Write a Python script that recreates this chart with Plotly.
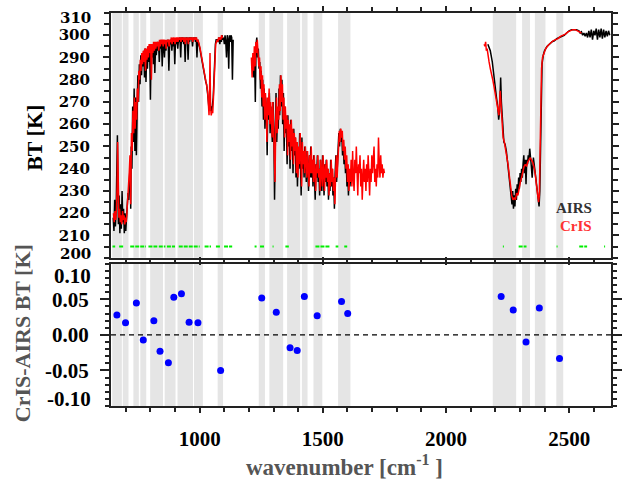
import plotly.graph_objects as go

# ---------------- data ----------------
# AIRS spectrum (wavenumber cm-1, BT K), three bands
airs_b1 = [(649,218),(652,212),(655,226),(658,214),(661,222),(664,236),(666,255),(668,230),(670,215),(673,228),
 (676,211),(679,224),(682,213),(685,230),(688,216),(691,222),(694,211),(697,220),(700,212),(703,218),(706,223),
 (709,229),(712,226),(715,235),(718,244),(720,222),(722,250),(725,240),(728,268),(731,252),(734,276),(737,248),
 (740,272),(743,246),(746,266),(749,282),(752,270),(755,287),(758,278),(761,291),(764,282),(767,292),(770,286),
 (773,293),(776,281),(779,294),(782,279),(785,293),(788,285),(791,295),(794,288),(797,295),(800,271),(803,294),
 (806,290),(809,296),(812,287),(815,296),(818,283),(821,296),(824,291),(827,297),(830,293),(833,297),(836,288),
 (839,297),(842,294),(845,297),(848,286),(851,297),(854,296),(857,290),(860,297),(863,293),(866,297),(869,295),
 (872,298),(875,284),(878,297),(881,296),(884,298),(887,293),(890,298),(893,295),(896,298),(899,287),(902,298),
 (905,296),(908,298),(911,294),(914,298),(917,297),(920,299),(923,290),(926,299),(929,297),(932,299),(935,296),
 (938,299),(941,288),(944,299),(947,298),(950,299),(953,289),(956,299),(959,297),(962,299),(965,298),(968,299),
 (971,295),(974,299),(977,298),(980,299),(983,297),(986,299),(989,290),(992,298),(995,297),(998,296),(1001,294),
 (1004,292),(1007,290),(1010,288),(1013,286),(1016,284),(1019,281),(1022,280),(1025,279),(1028,278),(1031,276),
 (1034,272),(1037,268),(1040,270),(1043,266),(1046,268),(1049,266),(1052,269),(1055,272),(1058,280),(1061,290),
 (1064,296),(1067,298),(1070,298),(1073,298),(1076,297),(1079,299),(1082,296),(1085,299),(1088,297),(1091,300),
 (1094,298),(1097,299),(1100,296),(1103,300),(1106,297),(1109,290),(1112,300),(1115,298),(1118,285),(1121,300),
 (1124,297),(1127,300),(1130,299),(1133,280),(1136,298)]
airs_b2 = [(1217,288),(1220,281),(1223,292),(1226,270),(1229,296),(1232,299),(1235,290),(1238,294),(1241,285),
 (1244,288),(1247,276),(1250,284),(1253,268),(1256,280),(1259,262),(1262,276),(1265,258),(1268,272),(1271,266),
 (1274,246),(1277,270),(1280,262),(1283,274),(1286,256),(1289,268),(1292,262),(1295,252),(1298,270),(1301,258),
 (1304,226),(1307,264),(1310,274),(1313,252),(1316,266),(1319,258),(1322,276),(1325,264),(1328,282),(1331,268),
 (1334,280),(1337,260),(1340,274),(1343,248),(1346,268),(1349,256),(1352,262),(1355,242),(1358,264),(1361,250),
 (1364,258),(1367,240),(1370,262),(1373,248),(1376,256),(1379,238),(1382,258),(1385,246),(1388,254),(1391,236),
 (1394,250),(1397,232),(1400,248),(1403,240),(1406,256),(1409,244),(1412,228),(1415,254),(1418,240),(1421,246),
 (1424,236),(1427,250),(1430,242),(1433,234),(1436,248),(1439,240),(1442,230),(1445,246),(1448,236),(1451,250),
 (1454,236),(1457,244),(1460,232),(1463,246),(1466,238),(1469,226),(1472,242),(1475,236),(1478,246),(1481,234),
 (1484,240),(1487,228),(1490,244),(1493,236),(1496,230),(1499,246),(1502,238),(1505,228),(1508,242),(1511,234),
 (1514,244),(1517,232),(1520,240),(1523,226),(1526,238),(1529,230),(1532,244),(1535,232),(1538,240),(1541,228),
 (1544,236),(1547,222),(1550,238),(1553,246),(1556,234),(1559,240),(1562,248),(1565,256),(1568,250),(1571,258),
 (1574,252),(1577,256),(1580,246),(1583,252),(1586,242),(1589,248),(1592,238),(1595,244),(1598,232),(1601,240),
 (1604,228),(1607,238),(1610,232),(1613,236)]
airs_b3 = [(2170,296),(2180,293),(2188,288),(2195,280),(2200,276),(2205,272),(2210,268),(2214,262),(2218,266),
 (2222,281),(2225,270),(2230,260),(2235,252),(2240,251),(2245,248),(2250,243),(2255,238),(2260,233),(2265,229),
 (2268,224),(2271,230),(2274,222),(2277,228),(2280,223),(2283,231),(2286,226),(2289,233),(2292,229),(2295,236),
 (2298,231),(2301,238),(2304,234),(2307,240),(2310,236),(2313,242),(2316,246),(2319,238),(2322,244),(2325,233),
 (2328,244),(2331,242),(2334,246),(2337,244),(2340,249),(2345,243),(2350,236),(2355,245),(2360,240),(2365,236),
 (2370,230),(2375,226),(2378,223),(2381,230),(2384,255),(2387,275),(2390,287),(2395,291),(2400,293),(2410,295),
 (2420,296),(2430,297),(2440,297.5),(2450,298.5),(2460,299),(2470,299.5),(2480,300),(2490,301),(2500,302),
 (2510,302.5),(2520,302.5),(2530,302.5),(2540,302),(2545,301),(2550,301.5),(2555,300),(2560,301),(2565,299.5),
 (2570,301),(2575,299),(2580,302),(2585,299),(2590,302.5),(2595,298),(2600,302),(2605,300),(2610,303),(2615,298),
 (2620,302.5),(2625,299),(2630,303),(2635,298.5),(2640,302.5),(2645,299),(2650,302),(2655,299.5),(2660,302),
 (2665,300)]

# CrIS spectrum (wavenumber cm-1, BT K), three bands
cris_b1 = [(650,220),(653,216),(656,221),(659,217),(662,222),(665,232),(667,252),(669,228),(672,218),(675,222),
 (678,216),(681,219),(684,215),(687,221),(690,217),(693,219),(696,215),(699,218),(702,216),(705,221),(708,226),
 (711,230),(714,238),(717,246),(720,224),(723,256),(726,248),(729,266),(732,256),(735,272),(738,258),(741,270),
 (744,262),(747,276),(750,270),(753,284),(756,280),(759,289),(762,284),(765,292),(768,287),(771,293),(774,288),
 (777,294),(780,284),(783,294),(786,289),(789,295),(792,290),(795,296),(798,292),(801,296),(804,280),(807,296),
 (810,292),(813,297),(816,293),(819,297),(822,294),(825,297),(828,295),(831,297),(834,293),(837,298),(840,295),
 (843,298),(846,296),(849,298),(852,295),(855,298),(858,296),(861,298),(864,294),(867,298),(870,297),(873,298),
 (876,295),(879,298),(882,297),(885,299),(888,296),(891,299),(894,297),(897,299),(900,296),(903,299),(906,297),
 (909,299),(912,297),(915,299),(918,298),(921,299),(924,297),(927,299),(930,298),(933,299),(936,297),(939,299),
 (942,296),(945,299),(948,298),(951,299),(954,296),(957,299),(960,298),(963,299),(966,298),(969,299),(972,297),
 (975,299),(978,298),(981,299),(984,298),(987,299),(990,297),(993,298),(996,297),(999,296),(1002,294),(1005,292),
 (1008,290),(1011,288),(1014,286),(1017,284),(1020,282),(1023,281),(1026,279),(1029,277),(1032,275),(1035,270),
 (1038,264),(1040,272),(1042,292),(1044,268),(1047,264),(1050,266),(1053,265),(1056,272),(1059,284),(1062,292),
 (1065,296),(1068,297),(1071,298),(1074,297),(1077,299),(1080,298),(1083,299),(1086,298),(1089,300),(1092,299),
 (1095,299)]
cris_b2 = [(1210,290),(1213,281),(1216,292),(1219,284),(1222,295),(1225,286),(1228,297),(1231,292),(1234,298),
 (1237,290),(1240,286),(1243,290),(1246,280),(1249,286),(1252,272),(1255,282),(1258,268),(1261,278),(1264,262),
 (1267,274),(1270,268),(1273,252),(1276,272),(1279,264),(1282,276),(1285,260),(1288,270),(1291,264),(1294,254),
 (1297,270),(1300,260),(1303,246),(1306,234),(1309,262),(1312,272),(1315,256),(1318,268),(1321,262),(1324,278),
 (1327,266),(1330,282),(1333,270),(1336,278),(1339,262),(1342,272),(1345,254),(1348,268),(1351,258),(1354,264),
 (1357,246),(1360,262),(1363,252),(1366,260),(1369,244),(1372,262),(1375,250),(1378,258),(1381,242),(1384,256),
 (1387,248),(1390,254),(1393,238),(1396,252),(1399,236),(1402,250),(1405,242),(1408,256),(1411,246),(1414,232),
 (1417,252),(1420,242),(1423,248),(1426,238),(1429,250),(1432,244),(1435,236),(1438,248),(1441,240),(1444,232),
 (1447,246),(1450,238),(1453,250),(1456,238),(1459,244),(1462,234),(1465,246),(1468,240),(1471,230),(1474,242),
 (1477,238),(1480,246),(1483,236),(1486,240),(1489,230),(1492,244),(1495,238),(1498,232),(1501,246),(1504,240),
 (1507,230),(1510,242),(1513,236),(1516,244),(1519,234),(1522,240),(1525,228),(1528,238),(1531,232),(1534,244),
 (1537,234),(1540,240),(1543,230),(1546,236),(1549,224),(1552,238),(1555,246),(1558,236),(1561,242),(1564,250),
 (1567,257),(1570,252),(1573,258),(1576,254),(1579,257),(1582,248),(1585,253),(1588,244),(1591,250),(1594,240),
 (1597,246),(1600,234),(1603,242),(1606,230),(1609,240),(1612,234),(1615,244),(1618,232),(1621,248),(1624,236),
 (1627,230),(1630,244),(1633,238),(1636,250),(1639,236),(1642,228),(1645,242),(1648,238),(1651,246),(1654,232),
 (1657,240),(1660,226),(1663,236),(1666,244),(1669,234),(1672,240),(1675,230),(1678,242),(1681,234),(1684,246),
 (1687,238),(1690,228),(1693,240),(1696,234),(1699,246),(1702,238),(1705,244),(1708,250),(1711,234),(1714,240),
 (1717,232),(1720,242),(1723,236),(1726,254),(1729,242),(1732,236),(1735,246),(1738,238),(1741,242),(1744,236),
 (1747,240),(1750,238)]
cris_b3 = [(2155,296),(2158,295),(2161,297),(2164,293),(2167,294),(2170,291),(2175,288),(2180,285),(2185,283),
 (2190,280),(2195,277),(2200,274),(2205,270),(2210,267),(2215,264),(2220,275),(2223,270),(2227,262),(2232,254),
 (2237,252),(2242,249),(2247,246),(2252,242),(2257,237),(2262,232),(2267,228),(2272,226),(2277,227),(2282,226),
 (2287,229),(2292,228),(2297,232),(2302,234),(2307,236),(2312,239),(2317,241),(2322,242),(2327,241),(2332,243),
 (2337,244),(2342,245),(2347,244),(2352,243),(2357,241),(2362,238),(2367,233),(2372,228),(2376,225),(2379,228),
 (2382,250),(2385,272),(2388,285),(2392,290),(2397,292),(2405,294),(2415,295.5),(2425,296.5),(2435,297.5),
 (2445,298),(2455,298.5),(2465,299.5),(2475,300),(2485,300.5),(2495,301.5),(2505,302),(2515,302.5),(2525,302.5),
 (2535,302),(2545,301.5),(2550,301)]

# Selected channel ranges (green marks at 205 K)
green_start = [646, 673, 718, 792, 834, 867, 915, 1020, 1066, 1099, 1223, 1245, 1296, 1348, 1470, 1552, 1587,
               2231, 2295, 2449, 2541, 2642]
green_end   = [657, 692, 782, 828, 861, 900, 1000, 1046, 1086, 1132, 1231, 1265, 1300, 1362, 1530, 1563, 1599,
               2235, 2327, 2453, 2573, 2646]
green_bt = 205

# Shaded spectral bands (cm-1)
band_lo = [645, 688, 731, 759, 799, 858, 910, 977, 1073, 1240, 1283, 1355, 1415, 1462, 1562, 2190, 2309, 2361, 2448]
band_hi = [684, 711, 753, 783, 851, 902, 973, 1013, 1095, 1265, 1339, 1408, 1438, 1498, 1612, 2285, 2341, 2404, 2476]

# CrIS-AIRS BT difference per band
diff_wn  = [664, 699, 743, 771, 814, 839, 873, 895, 926, 957, 993, 1085, 1252, 1311, 1367, 1396, 1425, 1477,
            1576, 1601, 2224, 2273, 2325, 2379, 2461]
diff_val = [0.028, 0.017, 0.045, -0.007, 0.020, -0.023, -0.039, 0.053, 0.058, 0.018, 0.017, -0.050, 0.052, 0.032,
            -0.018, -0.022, 0.054, 0.027, 0.047, 0.030, 0.054, 0.035, -0.010, 0.038, -0.033]

x_range = [640, 2670]
bt_range = [200, 310]
diff_range = [-0.1, 0.1]

# ---------------- figure ----------------
def join(bands):
    xs, ys = [], []
    for b in bands:
        if xs:
            xs.append(None); ys.append(None)
        xs += [p[0] for p in b]
        ys += [p[1] for p in b]
    return xs, ys

fig = go.Figure()
ax, ay = join([airs_b1, airs_b2, airs_b3])
cx, cy = join([cris_b1, cris_b2, cris_b3])
fig.add_trace(go.Scatter(x=ax, y=ay, mode="lines", line=dict(color="black", width=1.5),
                         xaxis="x", yaxis="y", showlegend=False))
fig.add_trace(go.Scatter(x=cx, y=cy, mode="lines", line=dict(color="#ff0000", width=1.5),
                         xaxis="x", yaxis="y", showlegend=False))
gx, gy = [], []
for s, e in zip(green_start, green_end):
    gx += [s, e, None]; gy += [green_bt, green_bt, None]
fig.add_trace(go.Scatter(x=gx, y=gy, mode="lines", line=dict(color="#00ee00", width=2, dash="4px,1px"),
                         xaxis="x", yaxis="y", showlegend=False))
fig.add_trace(go.Scatter(x=diff_wn, y=diff_val, mode="markers", marker=dict(color="#0000ff", size=7),
                         xaxis="x2", yaxis="y2", showlegend=False))

shapes = []
for lo, hi in zip(band_lo, band_hi):
    for xr, yr in (("x", "y domain"), ("x2", "y2 domain")):
        shapes.append(dict(type="rect", xref=xr, yref=yr, x0=lo, x1=hi, y0=0, y1=1,
                           fillcolor="#e5e5e5", line=dict(width=0), layer="below"))
shapes.append(dict(type="line", xref="x2 domain", yref="y2", x0=0, x1=1, y0=0, y1=0,
                   line=dict(color="black", width=1.3, dash="5px,4px")))

FONT = "Liberation Serif, Times New Roman, serif"
WIDE = "DejaVu Serif, serif"
axcol = "#222"
common_x = dict(range=x_range, showline=True, linewidth=2, linecolor=axcol, mirror="allticks",
                ticks="outside", ticklen=5, tickwidth=1.5, tickcolor=axcol, tick0=0, dtick=500,
                minor=dict(dtick=100, ticks="outside", ticklen=4, tickcolor=axcol, tickwidth=1.5),
                showgrid=False, zeroline=False)

fig.update_layout(
    width=628, height=479, margin=dict(l=111, r=6, t=12, b=73),
    paper_bgcolor="white", plot_bgcolor="white",
    font=dict(family=FONT, size=21, color="black"),
    shapes=shapes,
    xaxis=dict(domain=[0, 1], anchor="y", showticklabels=False, **common_x),
    xaxis2=dict(domain=[0, 1], anchor="y2", matches="x", showticklabels=True,
                tickfont=dict(family=FONT, size=21, color="black", weight="bold"),
                ticklabelstandoff=8, **common_x),
    yaxis=dict(domain=[0.3774, 1], anchor="x", range=bt_range, showline=True, linewidth=2, linecolor=axcol,
               mirror="allticks", ticks="outside", ticklen=6, tickwidth=1.5, tickcolor=axcol,
               tickvals=[210, 220, 230, 240, 250, 260, 270, 280, 290, 300],
               minor=dict(dtick=5, ticks="outside", ticklen=5, tickcolor=axcol, tickwidth=1.5),
               tickfont=dict(family=WIDE, size=15, color="black", weight="bold"),
               ticklabelstandoff=10, showgrid=False, zeroline=False),
    yaxis2=dict(domain=[0, 0.3617], anchor="x2", range=diff_range, showline=True, linewidth=2, linecolor=axcol,
                mirror="allticks", ticks="outside", ticklen=9, tickwidth=1.5, tickcolor=axcol,
                tickvals=[-0.05, 0, 0.05], ticktext=["-0.05", "0.00", "0.05"],
                minor=dict(dtick=0.01, ticks="outside", ticklen=4, tickcolor=axcol, tickwidth=1.5),
                tickfont=dict(family=FONT, size=21, color="black", weight="bold"),
                ticklabelstandoff=7, showgrid=False, zeroline=False),
)

ann = []
def lab(text, y, family, size):
    ann.append(dict(text=text, xref="paper", yref="paper", x=0, y=y, xanchor="right", yanchor="middle",
                    xshift=-18, showarrow=False, font=dict(family=family, size=size, color="black", weight="bold")))
lab("310", (406 - 17) / 394, WIDE, 15)
lab("200", (406 - 254) / 394, WIDE, 15)
lab("0.10", (406 - 276) / 394, FONT, 21)
lab("-0.10", (406 - 399) / 394, FONT, 21)

ann.append(dict(text="BT [K]", xref="paper", yref="paper", x=-0.1517, y=0.6827, textangle=-90,
                showarrow=False, xanchor="center", yanchor="middle",
                font=dict(family=FONT, size=22, color="black", weight="bold")))
ann.append(dict(text="CrIS-AIRS BT [K]", xref="paper", yref="paper", x=-0.178, y=0.1853, textangle=-90,
                showarrow=False, xanchor="center", yanchor="middle",
                font=dict(family=FONT, size=22, color="#555555", weight="bold")))
ann.append(dict(text="wavenumber [cm<sup>-1</sup> ]", xref="paper", yref="paper", x=0.4677, y=-0.1523,
                showarrow=False, xanchor="center", yanchor="middle",
                font=dict(family=FONT, size=23, color="#555555", weight="bold")))
ann.append(dict(text="AIRS", xref="paper", yref="paper", x=0.965, y=0.505, xanchor="right", yanchor="middle",
                showarrow=False, font=dict(family=FONT, size=15, color="#333333", weight="bold")))
ann.append(dict(text="CrIS", xref="paper", yref="paper", x=0.965, y=0.4569, xanchor="right", yanchor="middle",
                showarrow=False, font=dict(family=FONT, size=15, color="#ff3333", weight="bold")))
fig.update_layout(annotations=ann)

fig.write_html("out.html")
